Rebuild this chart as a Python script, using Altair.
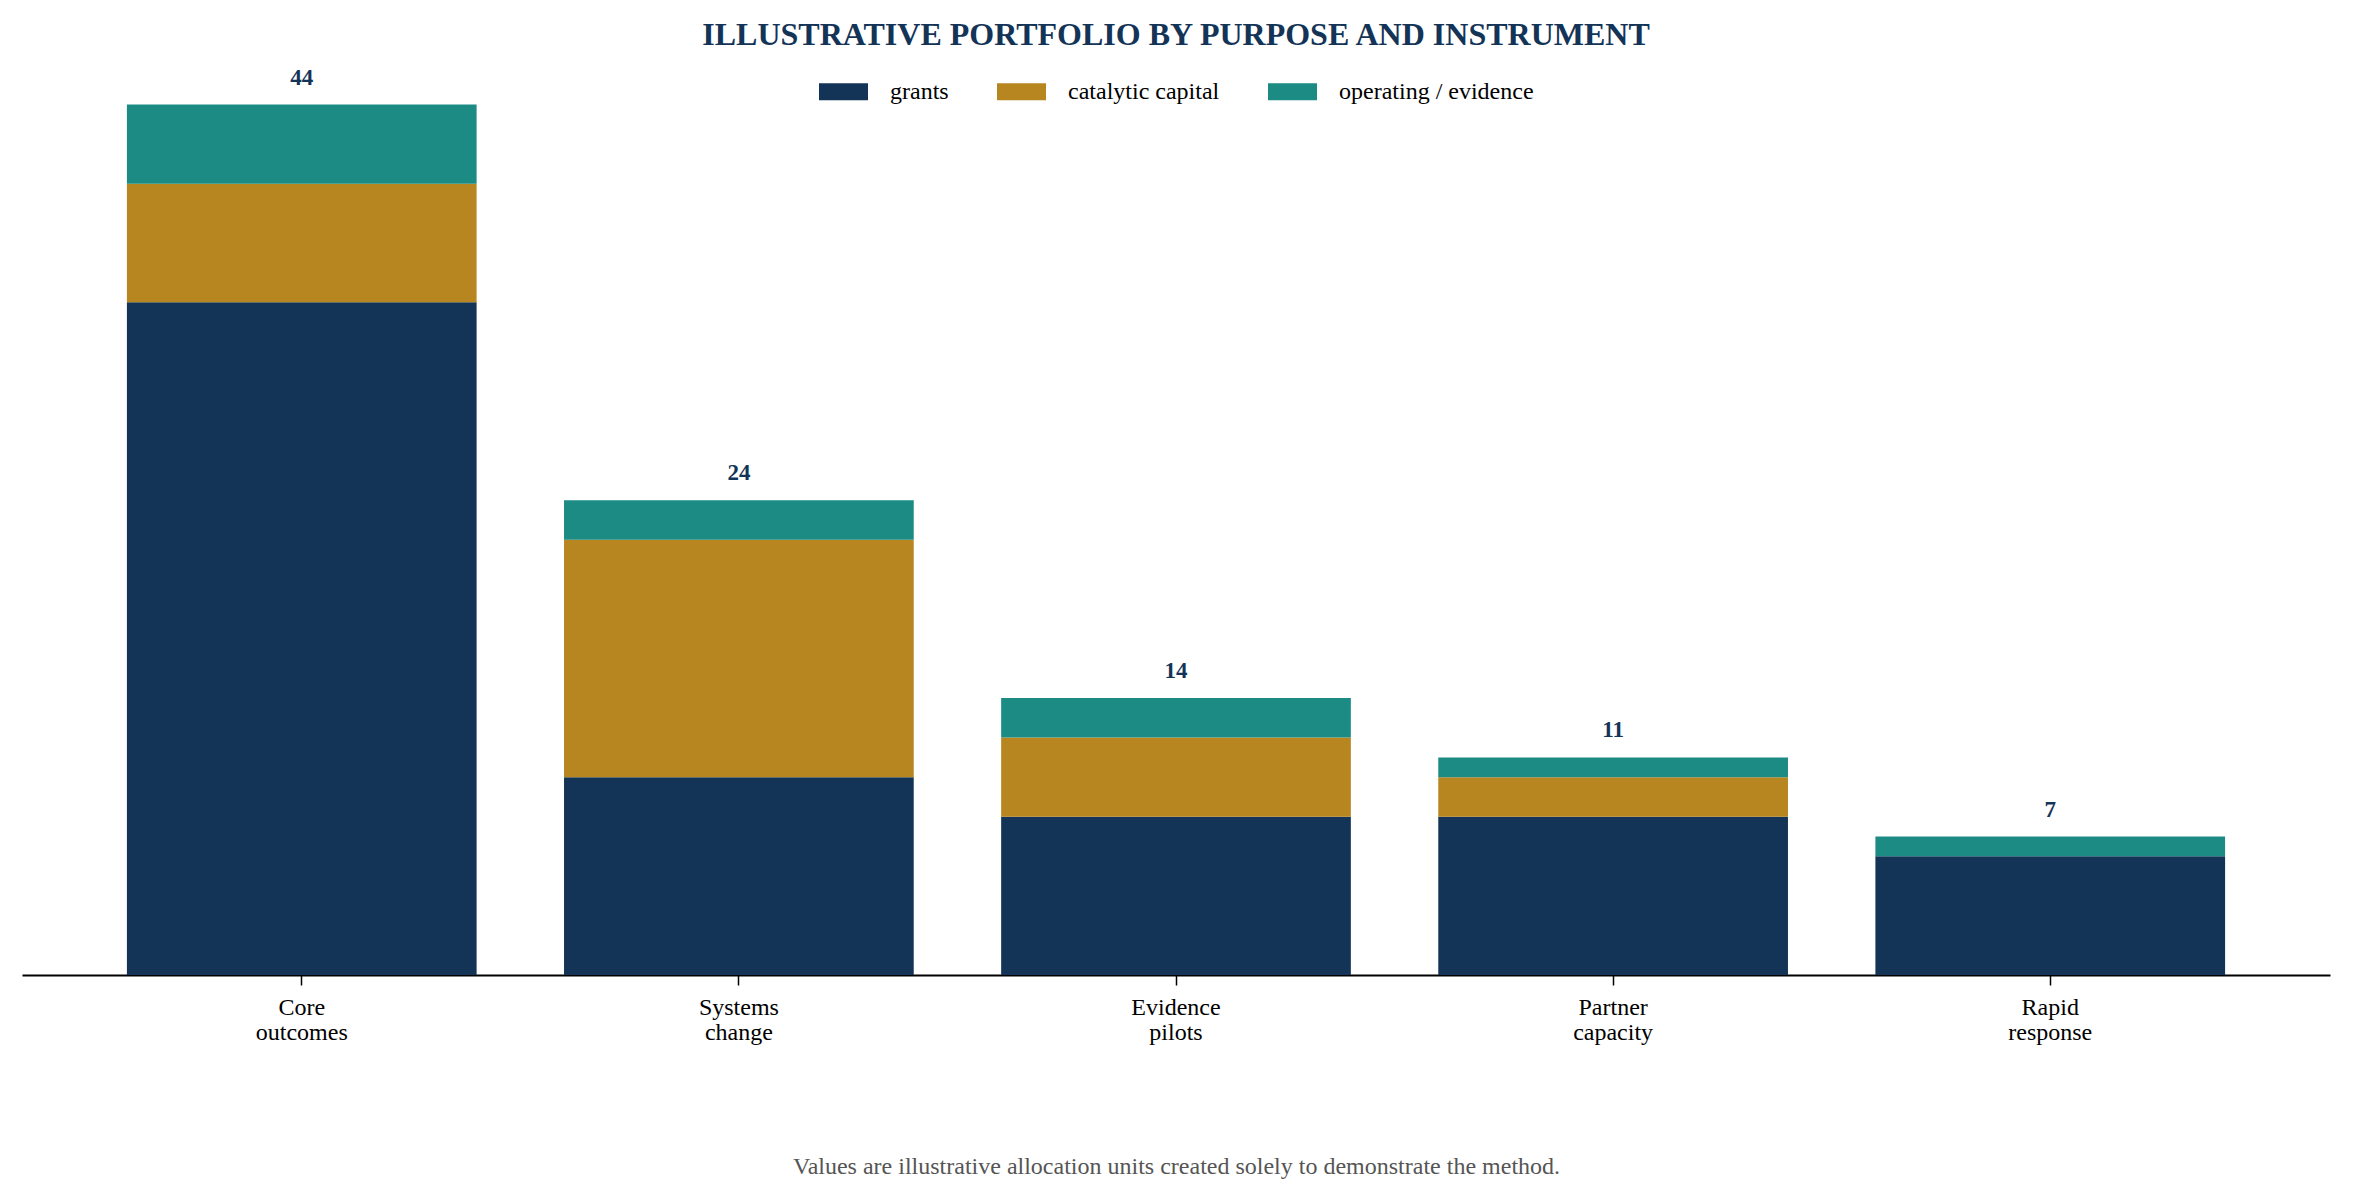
import altair as alt
import pandas as pd

categories = ["Core outcomes", "Systems change", "Evidence pilots", "Partner capacity", "Rapid response"]
instruments = ["grants", "catalytic capital", "operating / evidence"]
grants = [34, 10, 8, 8, 6]
catalytic = [6, 12, 4, 2, 0]
operating = [4, 2, 2, 1, 1]
colors = ["#133457", "#B88620", "#1B8B84"]

rows = []
for i, c in enumerate(categories):
    for j, (name, vals) in enumerate(zip(instruments, [grants, catalytic, operating])):
        rows.append({"category": c, "instrument": name, "value": vals[i], "order": j})
df = pd.DataFrame(rows)

FONT = "Liberation Serif"

x = alt.X("category:N", sort=categories,
          scale=alt.Scale(paddingInner=0.2, paddingOuter=0.24),
          axis=alt.Axis(title="Values are illustrative allocation units created solely to demonstrate the method.",
                        labelAngle=0, labelExpr="split(datum.label, ' ')",
                        labelFont=FONT, labelFontSize=24, labelColor="black", labelLineHeight=25,
                        labelPadding=10, labelLimit=0, tickColor="black", tickSize=10, tickWidth=1.5,
                        domainColor="black", domainWidth=2,
                        titleFont=FONT, titleFontSize=24, titleFontWeight="normal", titleColor="#555555",
                        titlePadding=110))

bars = alt.Chart(df).mark_bar().encode(
    x=x,
    y=alt.Y("sum(value):Q", stack="zero", scale=alt.Scale(domain=[0, 46.3], nice=False), axis=None),
    color=alt.Color("instrument:N", sort=instruments,
                    scale=alt.Scale(domain=instruments, range=colors),
                    legend=alt.Legend(title=None, orient="none", direction="horizontal",
                                      legendX=797, legendY=8,
                                      symbolType="M-1,-0.35H1V0.35H-1Z", symbolSize=2401,
                                      symbolStrokeWidth=0, symbolOpacity=1,
                                      labelFont=FONT, labelFontSize=24, labelColor="black",
                                      labelLimit=0, labelOffset=22, columnPadding=48, padding=0)),
    order=alt.Order("order:Q", sort="ascending"),
)

labels = alt.Chart(df).mark_text(
    font=FONT, fontSize=23, fontWeight="bold", color="#133457", baseline="middle", dy=-27
).encode(
    x=alt.X("category:N", sort=categories),
    y=alt.Y("sum(value):Q"),
    text=alt.Text("sum(value):Q"),
)

chart = alt.layer(bars, labels).properties(
    width=2308, height=916,
    padding={"left": 14, "top": 51, "right": 16, "bottom": 219},
    autosize=alt.AutoSizeParams(type="none"),
    title=alt.TitleParams("ILLUSTRATIVE PORTFOLIO BY PURPOSE AND INSTRUMENT",
                          font=FONT, fontSize=32, fontWeight="bold", color="#133457",
                          anchor="middle", offset=7),
).configure_view(stroke=None)

chart.save("out.html", embed_options={"renderer": "svg", "actions": False})
